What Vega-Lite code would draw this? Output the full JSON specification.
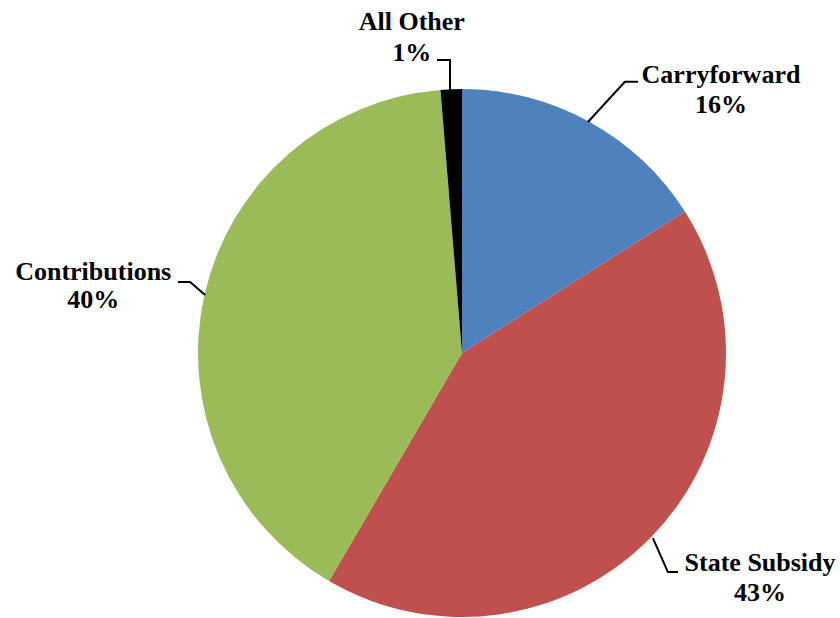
{
  "$schema": "https://vega.github.io/schema/vega-lite/v6.json",
  "width": 840,
  "height": 618,
  "padding": 0,
  "autosize": {"type": "fit", "contains": "padding"},
  "background": "white",
  "config": {"view": {"stroke": null}},
  "datasets": {
    "slices": [
      {"source": "Carryforward", "share": 16.0, "o": 1},
      {"source": "State Subsidy", "share": 42.4, "o": 2},
      {"source": "Contributions", "share": 40.3, "o": 3},
      {"source": "All Other", "share": 1.3, "o": 4}
    ],
    "labels": [
      {"text": "All Other", "ux": -0.19, "uy": 1.254},
      {"text": "1%", "ux": -0.19, "uy": 1.138},
      {"text": "Carryforward", "ux": 0.981, "uy": 1.053},
      {"text": "16%", "ux": 0.981, "uy": 0.94},
      {"text": "Contributions", "ux": -1.397, "uy": 0.307},
      {"text": "40%", "ux": -1.397, "uy": 0.2},
      {"text": "State Subsidy", "ux": 1.129, "uy": -0.795},
      {"text": "43%", "ux": 1.129, "uy": -0.909}
    ],
    "leaders": [
      {"g": "All Other", "s": 1, "ux": -0.0947, "uy": 1.11},
      {"g": "All Other", "s": 2, "ux": -0.0455, "uy": 1.11},
      {"g": "All Other", "s": 3, "ux": -0.0455, "uy": 0.996},
      {"g": "Carryforward", "s": 1, "ux": 0.667, "uy": 1.027},
      {"g": "Carryforward", "s": 2, "ux": 0.617, "uy": 1.027},
      {"g": "Carryforward", "s": 3, "ux": 0.477, "uy": 0.875},
      {"g": "Contributions", "s": 1, "ux": -1.076, "uy": 0.269},
      {"g": "Contributions", "s": 2, "ux": -1.03, "uy": 0.269},
      {"g": "Contributions", "s": 3, "ux": -0.973, "uy": 0.22},
      {"g": "State Subsidy", "s": 1, "ux": 0.723, "uy": -0.701},
      {"g": "State Subsidy", "s": 2, "ux": 0.78, "uy": -0.83},
      {"g": "State Subsidy", "s": 3, "ux": 0.818, "uy": -0.83}
    ]
  },
  "resolve": {"scale": {"x": "shared", "y": "shared"}},
  "layer": [
    {
      "data": {"name": "slices"},
      "mark": {"type": "arc", "outerRadius": 264},
      "encoding": {
        "theta": {"field": "share", "type": "quantitative", "stack": true},
        "order": {"field": "o", "type": "quantitative"},
        "color": {
          "field": "source",
          "type": "nominal",
          "scale": {
            "domain": ["Carryforward", "State Subsidy", "Contributions", "All Other"],
            "range": ["#4F81BD", "#C0504D", "#9BBB59", "#000000"]
          },
          "legend": null
        },
        "x": {"datum": 0, "type": "quantitative", "scale": {"domain": [-1.75, 1.4318], "nice": false, "zero": false}, "axis": null},
        "y": {"datum": 0, "type": "quantitative", "scale": {"domain": [-1.0038, 1.3371], "nice": false, "zero": false}, "axis": null}
      }
    },
    {
      "data": {"name": "leaders"},
      "mark": {"type": "line", "color": "#000000", "strokeWidth": 2, "interpolate": "linear"},
      "encoding": {
        "x": {"field": "ux", "type": "quantitative", "axis": null},
        "y": {"field": "uy", "type": "quantitative", "axis": null},
        "detail": {"field": "g", "type": "nominal"},
        "order": {"field": "s", "type": "quantitative"}
      }
    },
    {
      "data": {"name": "labels"},
      "mark": {"type": "text", "font": "Liberation Serif", "fontWeight": "bold", "fontSize": 26, "align": "center", "baseline": "middle", "color": "#000000"},
      "encoding": {
        "x": {"field": "ux", "type": "quantitative", "axis": null},
        "y": {"field": "uy", "type": "quantitative", "axis": null},
        "text": {"field": "text", "type": "nominal"}
      }
    }
  ]
}
